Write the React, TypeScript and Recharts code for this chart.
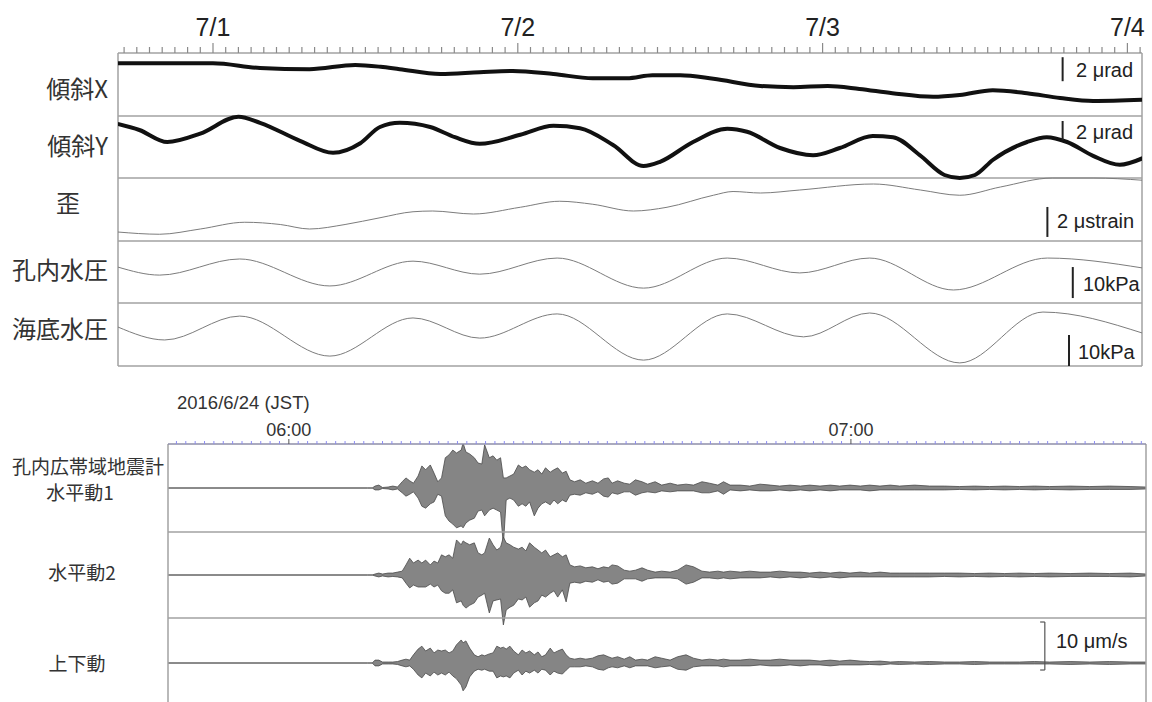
import React from 'react';
import { ComposedChart, Line, Area, XAxis, YAxis, ReferenceLine } from 'recharts';

// ---------- top block: hours since 2016/7/1 00:00 ----------
const tiltXHours = [-7.5, 0, 3.7, 7.6, 11.2, 13.2, 14.7, 17.9, 21.0, 23.6, 26.8, 29.9, 32.6, 34.6, 36.8, 39.4, 43.1, 45.7, 48.4, 50.9, 53.5, 56.7, 58.8, 61.4, 64.1, 66.7, 69.3, 73.2];
const tiltXValues = [4.4, 4.4, 4.0, 3.9, 4.25, 4.1, 3.9, 3.5, 3.65, 3.75, 3.5, 3.15, 3.15, 3.4, 3.4, 3.1, 2.5, 2.4, 2.5, 2.25, 1.9, 1.6, 1.75, 2.15, 1.9, 1.5, 1.25, 1.35];

const tiltYHours = [-7.5, -5.8, -3.6, -1.0, 2.0, 3.7, 6.85, 9.45, 11.6, 13.15, 14.7, 17.1, 19.05, 21.0, 24.2, 26.8, 28.9, 31.5, 33.9, 35.2, 37.8, 40.5, 42.05, 44.65, 47.25, 49.35, 51.95, 53.55, 55.65, 57.6, 58.8, 60.0, 61.4, 64.1, 65.65, 67.25, 69.3, 71.4, 73.2];
const tiltYValues = [4.5, 4.0, 3.0, 3.7, 5.1, 4.6, 3.1, 2.1, 2.9, 4.25, 4.6, 4.25, 3.4, 2.85, 3.6, 4.35, 4.15, 2.75, 1.0, 1.35, 3.0, 4.1, 3.85, 2.5, 1.9, 2.5, 3.5, 3.4, 1.9, 0.25, 0.0, 0.25, 1.5, 3.0, 3.4, 3.0, 1.85, 1.1, 1.65];

const strainHours = [-7.5, -4.2, -1.0, 2.5, 5.3, 7.6, 10.4, 13.15, 15.75, 17.3, 20.5, 24.2, 27.3, 29.9, 33.1, 35.75, 39.4, 40.95, 43.1, 46.2, 52.0, 55.7, 58.8, 62.0, 66.1, 69.3, 73.2];
const strainValues = [0.6, 0.45, 0.8, 1.25, 1.1, 0.8, 1.1, 1.55, 1.95, 2.0, 1.8, 2.25, 2.65, 2.45, 2.0, 2.25, 3.05, 3.3, 3.2, 3.4, 3.8, 3.4, 3.05, 3.6, 4.2, 4.2, 4.05];

const boreholePHours = [-7.5, -4.2, 2.1, 9.2, 15.75, 21.0, 27.1, 33.9, 40.5, 46.2, 51.7, 58.3, 65.7, 73.2];
const boreholePValues = [11.6, 9.0, 14.2, 5.5, 13.5, 9.3, 14.5, 4.8, 14.5, 9.7, 14.5, 4.2, 14.5, 11.3];

const seafloorPHours = [-7.5, -3.8, 2.1, 9.2, 15.75, 21.0, 27.1, 33.9, 40.5, 46.5, 51.7, 58.8, 65.35, 73.2];
const seafloorPValues = [12.6, 8.4, 16.1, 3.2, 15.5, 9.0, 16.8, 1.9, 16.8, 9.4, 17.1, 1.0, 17.4, 10.6];

const dateTickHours = [0, 24, 48, 72];
const dateTickLabels = ['7/1', '7/2', '7/3', '7/4'];

// ---------- seismograms: minutes since 2016/6/24 06:00 JST, µm/s ----------
const seisMinutes = [-12.9, 8.4, 8.9, 9.2, 9.6, 10.0, 10.6, 11.1, 11.6, 12.1, 12.5, 12.9, 13.3, 13.8, 14.2, 14.6, 15.1, 15.5, 15.9, 16.3, 16.7, 17.1, 17.5, 17.9, 18.4, 18.6, 18.9, 19.3, 19.8, 20.2, 20.6, 20.9, 21.4, 21.8, 22.2, 22.6, 22.9, 23.2, 23.6, 24.0, 24.5, 24.9, 25.3, 25.7, 26.2, 26.6, 27.0, 27.4, 27.9, 28.3, 28.7, 29.2, 29.6, 30.0, 30.5, 31.1, 31.7, 32.4, 33.0, 33.6, 34.1, 34.5, 35.1, 35.8, 36.4, 37.0, 37.7, 38.3, 39.1, 39.8, 40.7, 41.5, 42.4, 43.2, 44.1, 44.9, 45.8, 46.4, 47.1, 48.2, 49.2, 50.3, 51.4, 52.4, 53.5, 54.6, 55.6, 56.7, 57.8, 58.8, 59.9, 61.0, 62.0, 63.1, 64.2, 65.2, 66.8, 68.4, 70.0, 71.6, 73.2, 74.8, 76.4, 78.0, 79.6, 81.2, 83.4, 85.5, 87.6, 89.8, 91.5];

const hor1Up = [0, 0, 0, 0.4, 0.6, 0.1, 0.2, 0.4, 0.2, 1.3,
  2.1, 1.5, 1.0, 2.5, 4.6, 3.8, 4.8, 3.1, 1.3, 2.1,
  6.3, 6.9, 7.9, 7.3, 7.9, 9.4, 7.5, 7.1, 6.3, 5.2,
  5.0, 9.0, 6.3, 6.7, 5.8, 6.3, 2.1, 2.1, 2.5, 2.9,
  4.8, 4.2, 4.6, 3.8, 3.3, 3.8, 2.9, 4.2, 3.3, 3.8,
  4.2, 3.1, 3.5, 1.7, 1.3, 1.7, 1.0, 1.5, 1.0, 1.9,
  2.1, 1.0, 1.5, 1.0, 0.8, 1.7, 1.3, 0.8, 1.3, 0.6,
  1.0, 0.6, 0.8, 0.6, 1.3, 1.0, 0.6, 1.3, 0.6, 0.6,
  0.4, 0.8, 0.6, 0.4, 0.6, 0.4, 0.6, 0.4, 0.6, 0.4,
  0.6, 0.4, 0.6, 0.4, 0.6, 0.4, 0.6, 0.4, 0.4, 0.3,
  0.4, 0.3, 0.4, 0.3, 0.4, 0.3, 0.4, 0.3, 0.4, 0.3, 0.2];
const hor1Down = [0, 0, 0, -0.4, -0.4, -0.1, -0.2, -0.4, -0.2, -1.0,
  -1.7, -1.3, -0.8, -2.1, -3.8, -4.2, -3.3, -2.9, -1.3, -1.7,
  -5.8, -6.9, -7.5, -8.3, -7.9, -8.3, -7.3, -6.7, -6.3, -4.8,
  -4.6, -5.8, -4.6, -4.2, -4.6, -5.0, -11.9, -2.5, -2.1, -2.5,
  -3.8, -3.3, -3.8, -2.9, -5.8, -4.2, -3.3, -2.9, -3.5, -2.5,
  -3.3, -2.5, -2.9, -1.5, -1.3, -1.5, -1.0, -1.3, -0.8, -1.7,
  -1.9, -1.0, -1.3, -0.8, -0.8, -1.5, -1.0, -0.8, -1.0, -0.6,
  -0.8, -0.6, -0.6, -0.6, -1.0, -1.0, -0.6, -1.3, -0.4, -0.6,
  -0.4, -0.6, -0.6, -0.4, -0.6, -0.4, -0.6, -0.4, -0.6, -0.4,
  -0.4, -0.4, -0.6, -0.4, -0.4, -0.4, -0.4, -0.4, -0.4, -0.3,
  -0.4, -0.3, -0.4, -0.3, -0.4, -0.3, -0.4, -0.3, -0.3, -0.3, -0.2];

const hor2Up = [0, 0, 0, 0.2, 0.4, 0.2, 0.4, 0.4, 0.6, 0.8,
  2.1, 3.5, 2.5, 3.1, 2.5, 3.1, 2.1, 2.9, 2.5, 4.2,
  3.8, 4.2, 3.5, 7.3, 6.3, 7.1, 6.7, 6.3, 6.7, 4.6,
  4.2, 4.6, 7.7, 6.3, 5.2, 5.8, 7.9, 6.7, 6.3, 5.8,
  5.4, 5.8, 5.0, 6.7, 5.8, 5.2, 4.6, 5.2, 3.8, 4.2,
  4.6, 3.8, 4.2, 2.1, 1.7, 1.9, 1.5, 1.7, 1.3, 1.7,
  1.5, 2.1, 1.9, 1.0, 0.8, 1.0, 1.5, 1.0, 0.6, 0.8,
  0.6, 1.0, 2.1, 1.7, 0.8, 0.6, 0.8, 0.6, 0.8, 0.6,
  0.8, 0.6, 0.6, 0.8, 0.6, 0.6, 0.4, 0.6, 0.4, 0.6,
  0.4, 0.6, 0.4, 0.6, 0.4, 0.4, 0.4, 0.4, 0.4, 0.4,
  0.3, 0.4, 0.3, 0.4, 0.3, 0.4, 0.3, 0.4, 0.3, 0.4, 0.2];
const hor2Down = [0, 0, 0, -0.2, -0.4, -0.2, -0.4, -0.3, -0.4, -0.6,
  -1.7, -2.7, -2.1, -2.5, -2.5, -2.5, -1.9, -2.5, -2.1, -3.3,
  -3.8, -3.8, -3.1, -5.8, -5.4, -6.3, -6.9, -6.3, -5.8, -4.6,
  -4.2, -3.8, -7.9, -5.4, -5.2, -5.0, -10.4, -7.3, -6.7, -6.3,
  -5.0, -5.2, -4.6, -6.7, -5.8, -5.4, -4.2, -4.6, -3.8, -3.3,
  -4.6, -3.1, -5.6, -1.7, -1.5, -1.7, -1.3, -1.5, -1.0, -1.5,
  -1.3, -1.9, -1.7, -0.8, -0.8, -0.8, -1.3, -0.8, -0.6, -0.6,
  -0.6, -0.8, -1.9, -1.5, -0.6, -0.6, -0.8, -0.6, -0.8, -0.6,
  -0.6, -0.6, -0.4, -0.6, -0.4, -0.6, -0.4, -0.6, -0.4, -0.6,
  -0.4, -0.4, -0.4, -0.4, -0.4, -0.4, -0.4, -0.4, -0.3, -0.4,
  -0.3, -0.4, -0.3, -0.4, -0.3, -0.4, -0.3, -0.3, -0.3, -0.4, -0.2];

const vertUp = [0, 0, 0, 0.6, 0.6, 0.2, 0.2, 0.2, 0.3, 0.6,
  0.8, 0.6, 1.7, 2.9, 3.5, 2.5, 3.1, 2.1, 2.7, 2.5,
  2.7, 2.1, 2.5, 3.8, 4.8, 4.2, 4.6, 3.1, 1.7, 1.3,
  1.7, 1.5, 1.9, 2.1, 3.5, 3.1, 3.3, 2.9, 3.5, 2.5,
  1.7, 2.7, 2.1, 2.5, 1.7, 2.3, 1.3, 1.7, 3.1, 2.1,
  2.5, 2.9, 1.7, 1.0, 0.8, 1.0, 0.8, 1.0, 1.5, 1.7,
  1.3, 1.0, 1.3, 0.8, 1.3, 0.6, 0.8, 0.6, 1.3, 1.0,
  0.6, 1.3, 1.7, 1.0, 0.6, 0.8, 0.6, 0.8, 0.6, 0.6,
  0.8, 0.6, 0.6, 0.8, 0.6, 0.6, 0.6, 0.4, 0.6, 0.4,
  0.6, 0.4, 0.3, 0.4, 0.2, 0.3, 0.2, 0.3, 0.2, 0.2,
  0.3, 0.2, 0.2, 0.2, 0.3, 0.2, 0.3, 0.2, 0.3, 0.2, 0.2];
const vertDown = [0, 0, 0, -0.6, -0.6, -0.2, -0.2, -0.2, -0.3, -0.6,
  -0.8, -0.6, -1.3, -2.5, -3.1, -2.1, -2.7, -1.9, -2.5, -2.1,
  -2.5, -1.9, -2.7, -3.3, -4.6, -5.8, -5.0, -2.9, -1.7, -1.3,
  -1.5, -1.3, -1.7, -1.7, -3.1, -2.7, -2.9, -2.7, -3.1, -2.1,
  -1.5, -2.5, -1.7, -2.1, -1.5, -2.1, -1.3, -1.5, -2.5, -1.7,
  -2.1, -2.3, -1.5, -0.8, -0.8, -0.8, -0.6, -0.8, -1.3, -1.5,
  -1.0, -0.8, -1.0, -0.6, -1.0, -0.6, -0.6, -0.6, -1.0, -0.8,
  -0.6, -1.3, -1.5, -0.8, -0.6, -0.6, -0.6, -0.8, -0.6, -0.6,
  -0.6, -0.4, -0.6, -0.6, -0.4, -0.6, -0.4, -0.4, -0.6, -0.4,
  -0.4, -0.4, -0.3, -0.4, -0.2, -0.3, -0.2, -0.3, -0.2, -0.2,
  -0.3, -0.2, -0.2, -0.2, -0.2, -0.2, -0.3, -0.2, -0.3, -0.2, -0.2];

const seisHourTickMinutes = [0, 60];
const seisHourTickLabels = ['06:00', '07:00'];

// ---------- layout ----------
const LATIN = '"Liberation Sans", Arial, sans-serif';
const CJK = '"Noto Sans CJK JP", "Noto Sans", sans-serif';

const TOP_X0 = -7.48, TOP_X1 = 73.15;
const TOP_PLOT_TOP = 53, TOP_PLOT_BOTTOM = 366;
const SEIS_X0 = -12.9, SEIS_X1 = 91.5;
const SEIS_PLOT_TOP = 444, SEIS_PLOT_BOTTOM = 702;

const pairs = (xs: number[], ys: number[]) => xs.map((x, i) => ({ x, y: ys[i] }));
const tiltX = pairs(tiltXHours, tiltXValues);
const tiltY = pairs(tiltYHours, tiltYValues);
const strain = pairs(strainHours, strainValues);
const boreP = pairs(boreholePHours, boreholePValues);
const seaP = pairs(seafloorPHours, seafloorPValues);

const seisRows = seisMinutes.map((t, i) => ({
  t,
  h1: [hor1Down[i] ?? 0, hor1Up[i] ?? 0],
  h2: [hor2Down[i] ?? 0, hor2Up[i] ?? 0],
  v: [vertDown[i] ?? 0, vertUp[i] ?? 0],
}));

// domain so that value 0 sits at the given pixel row, with pxPerUnit scale
const bandDomain = (zeroPx: number, pxPerUnit: number, top: number, bottom: number): [number, number] => [
  (zeroPx - bottom) / pxPerUnit,
  (zeroPx - top) / pxPerUnit,
];

const hourTicks = Array.from({ length: 81 }, (_, i) => i - 7);
const minuteTicks = Array.from({ length: 104 }, (_, i) => i - 12);

const TopTick = (props: any) => {
  const { x, y, payload } = props;
  const idx = dateTickHours.indexOf(payload.value);
  const major = idx >= 0;
  return (
    <g>
      <line x1={x} x2={x} y1={y} y2={y - (major ? 10 : 6)} stroke="#8a8a8a" strokeWidth={1.2} />
      {major && (
        <text x={x} y={y - 17} textAnchor="middle" fontSize={25} fill="#222" fontFamily={LATIN}>
          {dateTickLabels[idx]}
        </text>
      )}
    </g>
  );
};

const SeisTick = (props: any) => {
  const { x, y, payload } = props;
  const idx = seisHourTickMinutes.indexOf(payload.value);
  const major = idx >= 0;
  return (
    <g>
      <line x1={x} x2={x} y1={y} y2={y - (major ? 5 : 3)} stroke={major ? '#555' : '#8c8cf2'} strokeWidth={1} />
      {major && (
        <text x={x} y={y - 8} textAnchor="middle" fontSize={18} fill="#333" fontFamily={LATIN}>
          {seisHourTickLabels[idx]}
        </text>
      )}
    </g>
  );
};

const Txt = ({ x, y, size, children, align = 'left', family = CJK, color = '#333' }: any) => (
  <div
    style={{
      position: 'absolute',
      left: x,
      top: y - size * 0.6,
      fontSize: size,
      lineHeight: `${size * 1.2}px`,
      fontFamily: family,
      color,
      whiteSpace: 'nowrap',
      transform: align === 'right' ? 'translateX(-100%)' : align === 'center' ? 'translateX(-50%)' : undefined,
    }}
  >
    {children}
  </div>
);

const frameStroke = '#a2a2a2';

export default function App() {
  const tB = [TOP_PLOT_TOP, TOP_PLOT_BOTTOM] as const;
  const sB = [SEIS_PLOT_TOP, SEIS_PLOT_BOTTOM] as const;
  return (
    <div style={{ position: 'absolute', left: 0, top: 0, width: 1152, height: 702, overflow: 'hidden', background: '#fff' }}>
      {/* ------------ top block ------------ */}
      <div style={{ position: 'absolute', left: 0, top: 0 }}>
        <ComposedChart width={1152} height={370} margin={{ top: 23, left: 118, right: 10, bottom: 4 }}>
          <XAxis
            xAxisId="h"
            type="number"
            dataKey="x"
            orientation="top"
            height={30}
            domain={[TOP_X0, TOP_X1]}
            allowDataOverflow
            ticks={hourTicks}
            interval={0}
            tick={<TopTick />}
            tickLine={false}
            tickSize={0}
            tickMargin={0}
            axisLine={{ stroke: frameStroke, strokeWidth: 1.5 }}
          />
          <YAxis yAxisId="frame" type="number" hide reversed domain={[TOP_PLOT_TOP, TOP_PLOT_BOTTOM]} allowDataOverflow />
          <YAxis yAxisId="tx" type="number" hide domain={bandDomain(116, 12, tB[0], tB[1])} allowDataOverflow />
          <YAxis yAxisId="ty" type="number" hide domain={bandDomain(178, 12, tB[0], tB[1])} allowDataOverflow />
          <YAxis yAxisId="st" type="number" hide domain={bandDomain(241, 15, tB[0], tB[1])} allowDataOverflow />
          <YAxis yAxisId="bp" type="number" hide domain={bandDomain(303, 3.1, tB[0], tB[1])} allowDataOverflow />
          <YAxis yAxisId="sp" type="number" hide domain={bandDomain(366, 3.1, tB[0], tB[1])} allowDataOverflow />

          {[116, 178, 241, 303, 366].map((py) => (
            <ReferenceLine key={py} xAxisId="h" yAxisId="frame" y={py} stroke={frameStroke} strokeWidth={1.5} />
          ))}
          <ReferenceLine xAxisId="h" yAxisId="frame" x={TOP_X0} stroke={frameStroke} strokeWidth={1.5} />
          <ReferenceLine xAxisId="h" yAxisId="frame" x={TOP_X1} stroke={frameStroke} strokeWidth={1.5} />

          <Line xAxisId="h" yAxisId="st" data={strain} dataKey="y" type="monotone" stroke="#7c7c7c" strokeWidth={1} dot={false} isAnimationActive={false} />
          <Line xAxisId="h" yAxisId="bp" data={boreP} dataKey="y" type="monotone" stroke="#7c7c7c" strokeWidth={1} dot={false} isAnimationActive={false} />
          <Line xAxisId="h" yAxisId="sp" data={seaP} dataKey="y" type="monotone" stroke="#7c7c7c" strokeWidth={1} dot={false} isAnimationActive={false} />
          <Line xAxisId="h" yAxisId="tx" data={tiltX} dataKey="y" type="monotone" stroke="#111" strokeWidth={4} dot={false} isAnimationActive={false} />
          <Line xAxisId="h" yAxisId="ty" data={tiltY} dataKey="y" type="monotone" stroke="#111" strokeWidth={4} dot={false} isAnimationActive={false} />

          <ReferenceLine xAxisId="h" yAxisId="tx" segment={[{ x: 66.9, y: 2.9 }, { x: 66.9, y: 4.9 }]} stroke="#222" strokeWidth={2} />
          <ReferenceLine xAxisId="h" yAxisId="ty" segment={[{ x: 66.9, y: 3.15 }, { x: 66.9, y: 4.75 }]} stroke="#222" strokeWidth={2} />
          <ReferenceLine xAxisId="h" yAxisId="st" segment={[{ x: 65.7, y: 0.27 }, { x: 65.7, y: 2.27 }]} stroke="#222" strokeWidth={2} />
          <ReferenceLine xAxisId="h" yAxisId="bp" segment={[{ x: 67.7, y: 1.6 }, { x: 67.7, y: 11.6 }]} stroke="#222" strokeWidth={2} />
          <ReferenceLine xAxisId="h" yAxisId="sp" segment={[{ x: 67.4, y: 0 }, { x: 67.4, y: 10 }]} stroke="#222" strokeWidth={2} />
        </ComposedChart>
      </div>

      {/* ------------ seismograms ------------ */}
      <div style={{ position: 'absolute', left: 0, top: 400 }}>
        <ComposedChart width={1152} height={302} data={seisRows} margin={{ top: 14, left: 168, right: 6, bottom: 0 }}>
          <XAxis
            xAxisId="m"
            type="number"
            dataKey="t"
            orientation="top"
            height={30}
            domain={[SEIS_X0, SEIS_X1]}
            allowDataOverflow
            ticks={minuteTicks}
            interval={0}
            tick={<SeisTick />}
            tickLine={false}
            tickSize={0}
            tickMargin={0}
            axisLine={{ stroke: '#8e8ea8', strokeWidth: 1.5 }}
          />
          <YAxis yAxisId="frame" type="number" hide reversed domain={[SEIS_PLOT_TOP, SEIS_PLOT_BOTTOM]} allowDataOverflow />
          <YAxis yAxisId="a" type="number" hide domain={bandDomain(488, 4.8, sB[0], sB[1])} allowDataOverflow />
          <YAxis yAxisId="b" type="number" hide domain={bandDomain(575, 4.8, sB[0], sB[1])} allowDataOverflow />
          <YAxis yAxisId="c" type="number" hide domain={bandDomain(663, 4.8, sB[0], sB[1])} allowDataOverflow />

          {[532, 618].map((py) => (
            <ReferenceLine key={py} xAxisId="m" yAxisId="frame" y={py} stroke={frameStroke} strokeWidth={1.5} />
          ))}
          <ReferenceLine xAxisId="m" yAxisId="frame" x={SEIS_X0} stroke={frameStroke} strokeWidth={1.5} />
          <ReferenceLine xAxisId="m" yAxisId="frame" x={SEIS_X1} stroke={frameStroke} strokeWidth={1.5} />

          <Area xAxisId="m" yAxisId="a" dataKey="h1" type="linear" stroke="#4a4a4a" strokeWidth={0.8} fill="#858585" fillOpacity={1} dot={false} activeDot={false} isAnimationActive={false} />
          <Area xAxisId="m" yAxisId="b" dataKey="h2" type="linear" stroke="#4a4a4a" strokeWidth={0.8} fill="#858585" fillOpacity={1} dot={false} activeDot={false} isAnimationActive={false} />
          <Area xAxisId="m" yAxisId="c" dataKey="v" type="linear" stroke="#4a4a4a" strokeWidth={0.8} fill="#858585" fillOpacity={1} dot={false} activeDot={false} isAnimationActive={false} />

          <ReferenceLine xAxisId="m" yAxisId="c" segment={[{ x: 80.7, y: -1.46 }, { x: 80.7, y: 8.54 }]} stroke="#555" strokeWidth={1.2} />
          <ReferenceLine xAxisId="m" yAxisId="c" segment={[{ x: 80.2, y: 8.54 }, { x: 80.7, y: 8.54 }]} stroke="#555" strokeWidth={1.2} />
          <ReferenceLine xAxisId="m" yAxisId="c" segment={[{ x: 80.2, y: -1.46 }, { x: 80.7, y: -1.46 }]} stroke="#555" strokeWidth={1.2} />
        </ComposedChart>
      </div>

      {/* ------------ labels ------------ */}
      <Txt x={108} y={88} size={24} align="right">傾斜X</Txt>
      <Txt x={108} y={145} size={24} align="right">傾斜Y</Txt>
      <Txt x={68} y={202} size={24} align="center">歪</Txt>
      <Txt x={108} y={269} size={24} align="right">孔内水圧</Txt>
      <Txt x={108} y={328} size={24} align="right">海底水圧</Txt>

      <Txt x={1076} y={70} size={20} family={LATIN} color="#222">2 μrad</Txt>
      <Txt x={1076} y={132} size={20} family={LATIN} color="#222">2 μrad</Txt>
      <Txt x={1057} y={221} size={20} family={LATIN} color="#222">2 μstrain</Txt>
      <Txt x={1083} y={284} size={20} family={LATIN} color="#222">10kPa</Txt>
      <Txt x={1078} y={352} size={20} family={LATIN} color="#222">10kPa</Txt>

      <Txt x={177} y={403} size={18.5} family={LATIN} color="#333">2016/6/24 (JST)</Txt>
      <Txt x={12} y={466} size={19}>孔内広帯域地震計</Txt>
      <Txt x={80} y={492} size={19} align="center">水平動1</Txt>
      <Txt x={82} y={572} size={19} align="center">水平動2</Txt>
      <Txt x={77} y={663} size={19} align="center">上下動</Txt>
      <Txt x={1056} y={641} size={20} family={LATIN} color="#222">10 μm/s</Txt>
    </div>
  );
}
